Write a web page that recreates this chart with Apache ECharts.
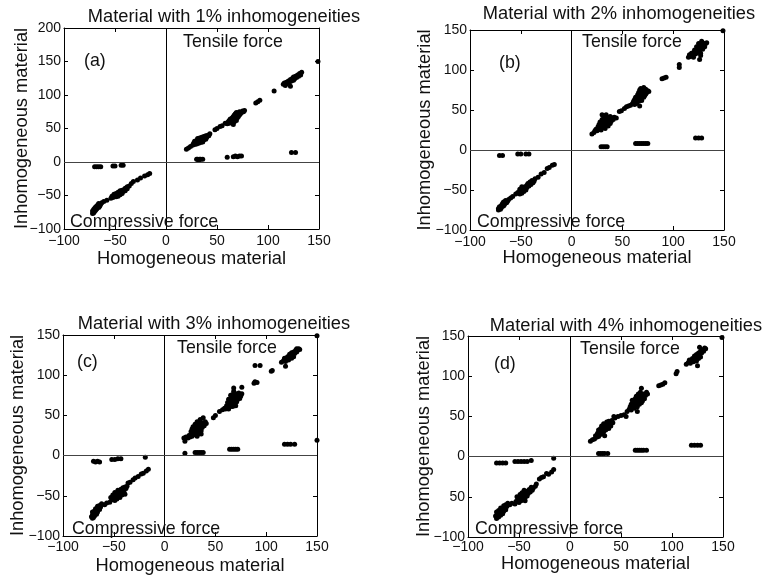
<!DOCTYPE html>
<html>
<head>
<meta charset="utf-8">
<script src="https://cdn.jsdelivr.net/npm/echarts@6/dist/echarts.min.js"></script>
<style>
  html, body { margin: 0; padding: 0; background: #fff; }
  #chart { width: 764px; height: 578px; }
</style>
</head>
<body>
<div id="chart"></div>
<script>
// ---- text ----
const panelTitles = [
  'Material with 1% inhomogeneities',
  'Material with 2% inhomogeneities',
  'Material with 3% inhomogeneities',
  'Material with 4% inhomogeneities'
];
const panelTags = ['(a)', '(b)', '(c)', '(d)'];
const xAxisTitle = 'Homogeneous material';
const yAxisTitle = 'Inhomogeneous material';
const tensileText = 'Tensile force';
const compressiveText = 'Compressive force';

// ---- tick labels ----
const xTickLabels = ['\u2212100', '\u221250', '0', '50', '100', '150'];
const yTickLabelsA = ['\u2212100', '\u221250', '0', '50', '100', '150', '200'];
const yTickLabelsB = ['\u2212100', '\u221250', '0', '50', '100', '150'];
const yTickLabelsC = ['\u2212100', '\u221250', '0', '50', '100', '150'];
const yTickLabelsD = ['\u2212100', '50', '0', '50', '100', '150'];

// ---- (a) 1% inhomogeneities: [homogeneous, inhomogeneous] ----
const tensileA = [
  [20,19],[22,21],[24,23],
  [26,25],[27,28],[28,26],[28,31],[29,29],[30,27],[30,32],[31,30],[31,35],[32,28],[32,33],[33,31],[33,36],
  [34,29],[34,34],[35,32],[35,37],[36,30],[36,35],[37,33],[37,38],[38,36],[39,34],[39,39],[40,37],[41,40],[42,39],[43,42],
  [48,48],[50,50],[53,53],[55,54],[58,58],
  [60,57],[61,60],[62,58],[62,62],[63,60],[63,64],[64,59],[64,62],[65,61],[65,66],[66,63],[66,68],[67,60],[67,65],[67,70],
  [68,64],[68,67],[68,72],[69,62],[69,69],[69,74],[70,66],[70,71],[71,68],[71,73],[72,70],[72,75],[73,72],[74,74],[75,76],[76,75],[77,77],[66,56],
  [88,88],[90,90],[92,92],[106,106],
  [115,116],[116,118],[117,114],[118,119],[119,117],[120,121],[121,119],[122,123],[122,113],[123,121],[124,125],[125,122],
  [125,127],[126,124],[127,128],[128,126],[129,130],[130,128],[131,132],[132,130],[133,134],
  [149,150],
  [30,4],[31,4],[32,3],[33,4],[34,4],[36,4],[60,7],[66,8],[68,9],[70,8],[72,9],[74,9],[123,14],[127,14]
];
const compressiveA = [
  [-70,-7],[-68,-7],[-66,-7],[-64,-7],[-52,-6],[-50,-6],[-44,-5],[-42,-5],
  [-16,-17],[-18,-19],[-21,-21],[-25,-24],[-28,-27],[-32,-29],[-34,-32],
  [-36,-36],[-38,-37],[-38,-40],[-40,-39],[-40,-43],[-41,-41],[-42,-44],[-43,-42],[-43,-47],[-44,-45],[-45,-43],[-45,-49],
  [-46,-47],[-47,-45],[-47,-51],[-48,-49],[-49,-47],[-49,-52],[-50,-50],[-51,-48],[-52,-53],[-53,-51],[-54,-54],
  [-58,-57],[-61,-59],[-63,-61],
  [-64,-63],[-65,-66],[-66,-62],[-66,-68],[-67,-64],[-68,-70],[-68,-66],[-69,-67],[-69,-72],[-70,-69],[-70,-74],
  [-71,-71],[-71,-76],[-72,-73],[-72,-77]
];

// ---- (b) 2% inhomogeneities ----
const tensileB = [
  [20,20],[22,22],[23,24],
  [24,26],[25,24],[26,29],[27,26],[27,32],[28,28],[28,35],[29,30],[29,25],[30,33],[30,38],[31,28],[31,36],[32,31],[32,41],
  [33,34],[33,27],[34,37],[34,44],[35,32],[35,40],[36,35],[36,30],[37,38],[38,33],[38,42],[39,36],[40,40],[41,38],[42,41],[44,40],[30,44],
  [47,48],[49,49],[52,52],[54,54],[56,55],
  [58,56],[60,58],[61,61],[62,57],[62,63],[63,60],[63,66],[64,62],[64,58],[65,64],[65,69],[66,61],[66,66],[66,72],[67,63],
  [67,68],[67,75],[68,65],[68,70],[68,77],[69,62],[69,67],[69,73],[70,69],[70,75],[71,66],[71,71],[71,78],[72,73],[72,68],
  [73,70],[73,76],[74,72],[75,74],[76,73],[67,55],
  [89,89],[91,90],[93,91],[106,103],[106,107],
  [115,116],[116,119],[117,117],[118,121],[119,118],[120,122],[120,116],[121,125],[122,120],[123,124],[123,129],[124,122],
  [125,127],[125,133],[126,125],[126,113],[127,130],[127,121],[128,128],[129,134],[129,126],[130,131],[131,129],[132,133],
  [133,134],[128,136],[127,118],
  [149,149],
  [29,4],[31,4],[33,4],[35,4],[63,8],[65,8],[67,8],[69,8],[71,8],[73,8],[75,8],[122,15],[125,15],[128,15]
];
const compressiveB = [
  [-71,-7],[-68,-7],[-53,-5],[-50,-5],[-45,-5],[-42,-5],
  [-17,-18],[-19,-19],[-22,-22],[-24,-23],[-27,-28],[-30,-30],[-33,-34],
  [-36,-36],[-37,-39],[-38,-41],[-39,-38],[-40,-43],[-41,-40],[-42,-45],[-43,-42],[-44,-47],[-44,-44],[-45,-50],[-46,-46],
  [-47,-48],[-47,-52],[-48,-50],[-49,-46],[-49,-54],[-50,-52],[-51,-49],[-51,-55],[-53,-53],[-55,-55],
  [-58,-58],[-60,-60],
  [-62,-62],[-63,-64],[-64,-66],[-65,-63],[-66,-68],[-67,-65],[-67,-70],[-68,-67],[-69,-72],[-69,-69],[-70,-74],
  [-71,-71],[-72,-75],[-72,-73]
];

// ---- (c) 3% inhomogeneities ----
const tensileC = [
  [20,3],[21,23],[20,18],[19,22],
  [23,22],[24,25],[25,23],[26,27],[26,30],[27,24],[27,33],[28,28],[28,36],[29,26],[29,31],[30,34],[30,39],[31,29],[31,37],
  [32,32],[32,42],[33,27],[33,35],[34,30],[34,40],[35,33],[35,45],[36,37],[36,31],[37,35],[37,41],[38,39],[38,47],[39,37],
  [40,42],[41,40],[32,24],[36,27],
  [48,47],[50,50],[54,55],[57,57],[59,59],
  [60,58],[61,62],[62,60],[62,66],[63,63],[63,58],[64,65],[64,70],[65,61],[65,68],[66,64],[66,73],[67,67],[67,61],[67,76],
  [68,70],[68,64],[68,80],[69,66],[69,73],[70,69],[70,77],[70,62],[71,72],[71,67],[72,75],[72,70],[73,73],[73,78],[74,71],
  [74,76],[75,74],[76,77],[76,85],[68,84],[63,70],[65,75],
  [88,90],[89,92],[91,91],[89,112],[94,112],[106,106],[105,105],
  [115,116],[117,118],[118,121],[119,111],[119,117],[120,120],[121,123],[122,119],[123,122],[123,126],[124,124],[125,121],
  [125,128],[126,126],[127,129],[127,123],[128,127],[129,131],[130,129],[130,133],[131,131],[132,133],[133,132],
  [150,149],[150,19],
  [30,4],[32,4],[34,4],[36,4],[38,4],[64,8],[66,8],[68,8],[70,8],[72,8],[118,14],[121,14],[124,14],[128,14]
];
const compressiveC = [
  [-70,-7],[-68,-8],[-66,-7],[-64,-8],[-52,-5],[-49,-5],[-46,-4],[-43,-4],[-19,-2],
  [-16,-17],[-18,-19],[-21,-22],[-23,-23],[-26,-26],[-29,-28],[-31,-30],[-34,-33],[-36,-34],
  [-37,-38],[-38,-41],[-39,-39],[-40,-43],[-40,-46],[-41,-40],[-42,-44],[-42,-49],[-43,-42],[-44,-47],[-44,-52],[-45,-45],
  [-46,-50],[-46,-43],[-47,-48],[-47,-54],[-48,-51],[-49,-46],[-49,-56],[-50,-53],[-51,-49],[-52,-55],[-53,-52],[-54,-58],[-39,-48],
  [-59,-61],[-57,-59],
  [-62,-60],[-63,-64],[-64,-62],[-64,-67],[-65,-65],[-66,-70],[-66,-63],[-67,-68],[-67,-73],[-68,-66],[-68,-71],[-69,-75],
  [-69,-69],[-70,-72],[-70,-77],[-71,-74],[-71,-70],[-72,-76],[-71,-78]
];

// ---- (d) 4% inhomogeneities ----
const tensileD = [
  [20,19],[22,21],
  [24,22],[25,26],[26,24],[27,29],[28,25],[28,33],[29,31],[29,27],[30,35],[30,29],[31,33],[31,38],[32,28],[32,36],[33,31],
  [33,41],[34,35],[34,26],[35,38],[35,33],[36,43],[36,36],[37,39],[38,35],[38,44],[39,41],[40,38],[41,45],[42,42],[44,48],[43,50],
  [47,50],[50,51],[53,52],[55,50],
  [56,56],[58,59],[59,62],[60,58],[60,65],[61,61],[62,64],[62,69],[63,60],[63,67],[64,63],[64,72],[65,66],[65,75],[66,62],
  [66,70],[67,68],[67,78],[68,65],[68,73],[69,71],[69,80],[70,67],[70,76],[71,73],[71,69],[72,78],[72,75],[73,72],[74,76],
  [75,80],[76,78],[70,85],[66,56],[61,70],
  [87,88],[89,89],[91,90],[93,92],[104,103],[105,106],
  [114,115],[116,117],[117,120],[118,116],[119,119],[120,122],[121,118],[122,121],[122,125],[123,123],[124,127],[124,119],
  [125,125],[126,129],[126,122],[127,127],[128,131],[128,124],[129,129],[130,133],[131,131],[132,135],[133,134],[127,136],[125,113],
  [149,148],
  [28,4],[30,4],[32,4],[34,4],[37,4],[64,8],[66,8],[68,8],[70,8],[72,8],[75,8],[119,14],[122,14],[125,14],[128,14]
];
const compressiveD = [
  [-72,-8],[-69,-8],[-66,-8],[-63,-8],[-54,-6],[-51,-6],[-48,-6],[-45,-6],[-42,-6],[-38,-5],[-16,-2],
  [-16,-16],[-18,-19],[-21,-22],[-23,-21],[-26,-25],[-28,-26],[-30,-28],[-33,-34],
  [-34,-37],[-36,-39],[-37,-42],[-38,-38],[-39,-44],[-40,-41],[-41,-46],[-42,-43],[-42,-49],[-43,-45],[-44,-51],[-45,-47],
  [-45,-42],[-46,-53],[-47,-49],[-47,-45],[-48,-55],[-49,-51],[-49,-47],[-50,-57],[-51,-53],[-52,-50],[-53,-56],[-54,-59],[-44,-55],
  [-57,-58],[-59,-60],
  [-61,-58],[-62,-62],[-63,-60],[-63,-66],[-64,-63],[-65,-68],[-65,-61],[-66,-65],[-66,-71],[-67,-67],[-68,-73],[-68,-64],
  [-69,-70],[-70,-75],[-70,-67],[-71,-72],[-72,-77],[-72,-69],[-73,-74]
];

const tensileSets = [tensileA, tensileB, tensileC, tensileD];
const compressiveSets = [compressiveA, compressiveB, compressiveC, compressiveD];
const yTickSets = [yTickLabelsA, yTickLabelsB, yTickLabelsC, yTickLabelsD];

// ---- layout of the four panels ----
const FONT = "'Liberation Sans', Arial, Helvetica, sans-serif";
const TITLE_SIZE = 18.3;
const NOTE_SIZE = 17.8;
const SMALL = 14;
const panels = [
  { grid: { left: 64,  top: 28,  width: 255, height: 201 }, yMin: -100, yMax: 200,
    xNameGap: 21, yNameGap: 33, labelMargin: 5, title: [224, 17], tag: [84, 61], tens: [183, 42], comp: [70, 222] },
  { grid: { left: 470, top: 30,  width: 254, height: 200 }, yMin: -100, yMax: 150,
    xNameGap: 19, yNameGap: 36, labelMargin: 5, title: [619, 14], tag: [499, 63], tens: [582, 42], comp: [477, 222] },
  { grid: { left: 63,  top: 335, width: 254, height: 201 }, yMin: -100, yMax: 150,
    xNameGap: 21, yNameGap: 36, labelMargin: 4, title: [214, 324], tag: [77, 362], tens: [177, 348], comp: [72, 529] },
  { grid: { left: 468, top: 336, width: 255, height: 201 }, yMin: -100, yMax: 150,
    xNameGap: 18, yNameGap: 35, labelMargin: 3, title: [626, 326], tag: [494, 364], tens: [580, 349], comp: [475, 529] }
];

const X_MIN = -100, X_MAX = 150, STEP = 50;
const lineStyle = { color: '#000', width: 1 };
const tickStyle = { show: true, inside: true, length: 4, lineStyle: { color: '#000', width: 1 } };
const textColor = '#111';

const grids = [], xAxes = [], yAxes = [], series = [], graphics = [];

panels.forEach((p, i) => {
  grids.push(Object.assign({ containLabel: false }, p.grid));
  const yTicks = yTickSets[i];

  // bottom axis with labels
  xAxes.push({
    gridIndex: i, type: 'value', position: 'bottom', min: X_MIN, max: X_MAX, interval: STEP,
    axisLine: { show: true, onZero: false, lineStyle },
    axisTick: tickStyle, splitLine: { show: false },
    axisLabel: { show: true, margin: p.labelMargin, color: textColor, fontFamily: FONT, fontSize: SMALL,
      formatter: v => xTickLabels[Math.round((v - X_MIN) / STEP)] },
    name: xAxisTitle, nameLocation: 'middle', nameGap: p.xNameGap, nameMoveOverlap: false,
    nameTextStyle: { color: textColor, fontFamily: FONT, fontSize: TITLE_SIZE }
  });
  // top mirror axis (frame + inner ticks)
  xAxes.push({
    gridIndex: i, type: 'value', position: 'top', min: X_MIN, max: X_MAX, interval: STEP,
    axisLine: { show: true, onZero: false, lineStyle },
    axisTick: tickStyle, axisLabel: { show: false }, splitLine: { show: false }
  });
  // left axis with labels
  yAxes.push({
    gridIndex: i, type: 'value', position: 'left', min: p.yMin, max: p.yMax, interval: STEP,
    axisLine: { show: true, onZero: false, lineStyle },
    axisTick: tickStyle, splitLine: { show: false },
    axisLabel: { show: true, margin: 3, color: textColor, fontFamily: FONT, fontSize: SMALL,
      formatter: v => yTicks[Math.round((v - p.yMin) / STEP)] },
    name: yAxisTitle, nameLocation: 'middle', nameGap: p.yNameGap, nameMoveOverlap: false,
    nameTextStyle: { color: textColor, fontFamily: FONT, fontSize: TITLE_SIZE }
  });
  // right mirror axis
  yAxes.push({
    gridIndex: i, type: 'value', position: 'right', min: p.yMin, max: p.yMax, interval: STEP,
    axisLine: { show: true, onZero: false, lineStyle },
    axisTick: tickStyle, axisLabel: { show: false }, splitLine: { show: false }
  });

  const dot = { color: '#000', opacity: 1 };
  series.push({
    type: 'scatter', name: 'tensile ' + panelTags[i], xAxisIndex: 2 * i, yAxisIndex: 2 * i,
    data: tensileSets[i], symbol: 'circle', symbolSize: 5, itemStyle: dot, silent: true,
    markLine: {
      silent: true, symbol: ['none', 'none'], label: { show: false },
      lineStyle: { color: '#000', width: 1, type: 'solid' },
      data: [ { xAxis: 0 }, { yAxis: 0, lineStyle: { color: '#444', width: 1, type: 'solid' } } ]
    }
  });
  series.push({
    type: 'scatter', name: 'compressive ' + panelTags[i], xAxisIndex: 2 * i, yAxisIndex: 2 * i,
    data: compressiveSets[i], symbol: 'circle', symbolSize: 5, itemStyle: dot, silent: true
  });

  const txt = (s, x, y, align, size) => ({
    type: 'text', x: x, y: y, silent: true, z: 10,
    style: { text: s, fill: textColor, fontFamily: FONT, fontSize: size, align: align, verticalAlign: 'middle' }
  });
  graphics.push(txt(panelTitles[i], p.title[0], p.title[1], 'center', TITLE_SIZE));
  graphics.push(txt(panelTags[i], p.tag[0], p.tag[1], 'left', NOTE_SIZE));
  graphics.push(txt(tensileText, p.tens[0], p.tens[1], 'left', NOTE_SIZE));
  graphics.push(txt(compressiveText, p.comp[0], p.comp[1], 'left', NOTE_SIZE));
});

const chart = echarts.init(document.getElementById('chart'), null, { renderer: 'canvas' });
chart.setOption({
  backgroundColor: '#fff',
  animation: false,
  grid: grids,
  xAxis: xAxes,
  yAxis: yAxes,
  series: series,
  graphic: graphics
});
</script>
</body>
</html>
